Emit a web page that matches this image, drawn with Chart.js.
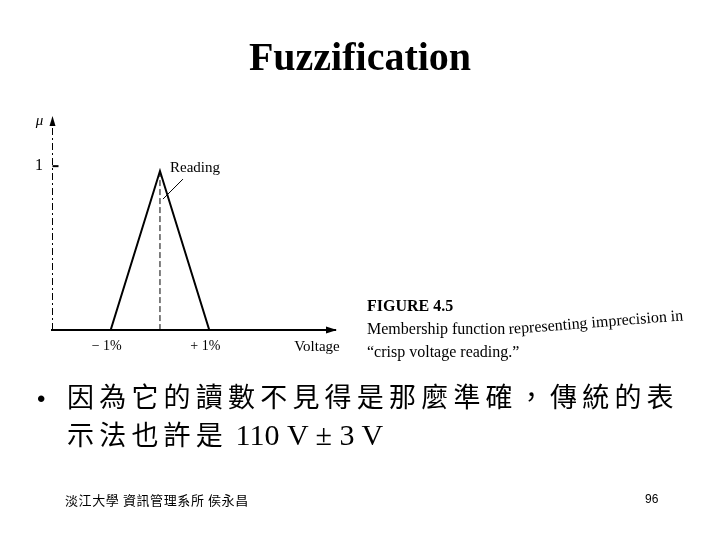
<!DOCTYPE html>
<html><head><meta charset="utf-8">
<script src="https://cdn.jsdelivr.net/npm/chart.js@4.4.0/dist/chart.umd.min.js"></script>
<style>
html,body{margin:0;padding:0;background:#fff;}
#wrap{position:relative;width:720px;height:540px;overflow:hidden;background:#fff;}
canvas{position:absolute;left:0;top:0;}
.t{position:absolute;white-space:nowrap;color:#000;line-height:1;}
.serif{font-family:'Liberation Serif','Times New Roman',serif;}
.cjk{font-family:'Noto Sans CJK TC','Noto Sans CJK SC',sans-serif;}
</style></head><body>
<div id="wrap">
<canvas id="c" width="720" height="540"></canvas>
<div class="t serif" style="left:0;width:720px;text-align:center;top:37px;font-size:40px;font-weight:bold;">Fuzzification</div>

<div class="t serif" style="left:367px;top:298px;font-size:16px;font-weight:bold;">FIGURE 4.5</div>
<div class="t serif" style="left:367px;top:321px;font-size:16px;">Membership function</div>
<div class="t serif" style="left:509px;top:321px;font-size:16px;transform-origin:0 13px;transform:rotate(-4.5deg);">representing imprecision in</div>
<div class="t serif" style="left:367px;top:344px;font-size:16px;">“crisp voltage reading.”</div>

<div class="t" style="left:37px;top:387px;font-size:24px;font-family:'Liberation Sans',sans-serif;">•</div>
<div class="t cjk" style="left:67px;top:382px;font-size:27px;letter-spacing:5.2px;">因為它的讀數不見得是那麼準確，傳統的表</div>
<div class="t cjk" style="left:67px;top:420px;font-size:27px;letter-spacing:5.2px;">示法也許是<span class="serif" style="font-size:30px;letter-spacing:0;"> 110 V ± 3 V</span></div>

<div class="t cjk" style="left:65px;top:493px;font-size:13px;letter-spacing:0.6px;">淡江大學 資訊管理系所 侯永昌</div>
<div class="t" style="left:645px;top:493px;font-size:12px;font-family:'Liberation Sans',sans-serif;">96</div>
</div>
<script>
// Membership function (triangle)
const xValues = [-1, 0, 1];
const yValues = [0, 0.97, 0];
// Dashed "Reading" line from peak down to the axis
const readingX = [0, 0];
const readingY = [0.97, 0];
// Tick labels
const xTickValues = [-1, 1];
const xTickLabels = ['− 1%', '+ 1%'];
const yTickValues = [1];
const yTickLabels = ['1'];

const SERIF = "'Liberation Serif', 'Times New Roman', serif";

const decor = {
  id: 'decor',
  beforeDatasetsDraw(chart) {
    const ctx = chart.ctx;
    const a = chart.chartArea;
    ctx.save();
    ctx.strokeStyle = '#000';
    ctx.lineWidth = 1;
    ctx.setLineDash([7, 3, 2, 3]);
    ctx.beginPath();
    ctx.moveTo(a.left + 0.5, a.bottom);
    ctx.lineTo(a.left + 0.5, a.top + 6);
    ctx.stroke();
    ctx.restore();
  },
  afterDraw(chart) {
    const ctx = chart.ctx;
    const xs = chart.scales.x, ys = chart.scales.y;
    const a = chart.chartArea;
    const x0 = a.left + 0.5, yb = a.bottom;
    ctx.save();
    ctx.fillStyle = '#000';
    ctx.strokeStyle = '#000';
    // y arrowhead
    ctx.beginPath();
    ctx.moveTo(x0, a.top - 1);
    ctx.lineTo(x0 - 3, a.top + 9);
    ctx.lineTo(x0 + 3, a.top + 9);
    ctx.closePath(); ctx.fill();
    // x arrowhead
    ctx.beginPath();
    ctx.moveTo(a.right + 2, yb);
    ctx.lineTo(a.right - 9, yb - 3.5);
    ctx.lineTo(a.right - 9, yb + 3.5);
    ctx.closePath(); ctx.fill();
    // y tick mark (inside)
    const y1 = ys.getPixelForValue(yTickValues[0]);
    ctx.lineWidth = 2;
    ctx.beginPath(); ctx.moveTo(x0, y1); ctx.lineTo(x0 + 6, y1); ctx.stroke();
    // Reading label + pointer
    const px = xs.getPixelForValue(xValues[1]);
    const py = ys.getPixelForValue(yValues[1]);
    ctx.font = '15px ' + SERIF;
    ctx.textAlign = 'center';
    ctx.textBaseline = 'middle';
    ctx.fillText('Reading', px + 35, py - 3);
    ctx.lineWidth = 1;
    ctx.beginPath(); ctx.moveTo(px + 23, py + 8); ctx.lineTo(px + 3, py + 28); ctx.stroke();
    // Voltage label
    ctx.font = '15px ' + SERIF;
    ctx.fillText('Voltage', a.right - 18, yb + 17);
    // mu label
    ctx.font = 'italic 15px ' + SERIF;
    ctx.fillText('μ', x0 - 13, a.top + 4);
    ctx.restore();
  }
};

new Chart(document.getElementById('c'), {
  type: 'scatter',
  data: {
    datasets: [
      {
        data: xValues.map((x, i) => ({x, y: yValues[i]})),
        showLine: true, borderColor: '#000', borderWidth: 2,
        pointRadius: 0, tension: 0
      },
      {
        data: readingX.map((x, i) => ({x, y: readingY[i]})),
        showLine: true, borderColor: '#000', borderWidth: 1,
        borderDash: [6, 3], pointRadius: 0
      }
    ]
  },
  options: {
    responsive: false,
    animation: false,
    devicePixelRatio: 1,
    layout: { padding: { left: 12, top: 117, right: 385, bottom: 170 } },
    plugins: { legend: { display: false }, tooltip: { enabled: false } },
    scales: {
      x: {
        type: 'linear', min: -2.19, max: 3.55,
        grid: { display: false, drawTicks: false },
        border: { display: true, color: '#000', width: 2 },
        afterBuildTicks: (s) => { s.ticks = xTickValues.map(v => ({value: v})); },
        afterFit: (s) => { s.height = 40; },
        ticks: {
          color: '#000', padding: 8, labelOffset: -4, maxRotation: 0, autoSkip: false,
          font: { family: SERIF, size: 14 },
          callback: (v) => xTickLabels[xTickValues.indexOf(v)]
        }
      },
      y: {
        type: 'linear', min: 0, max: 1.3,
        grid: { display: false, drawTicks: false },
        border: { display: false },
        afterBuildTicks: (s) => { s.ticks = yTickValues.map(v => ({value: v})); },
        afterFit: (s) => { s.width = 40; },
        ticks: {
          color: '#000', padding: 9,
          font: { family: SERIF, size: 16 },
          callback: (v) => yTickLabels[yTickValues.indexOf(v)]
        }
      }
    }
  },
  plugins: [decor]
});
</script>
</body></html>
